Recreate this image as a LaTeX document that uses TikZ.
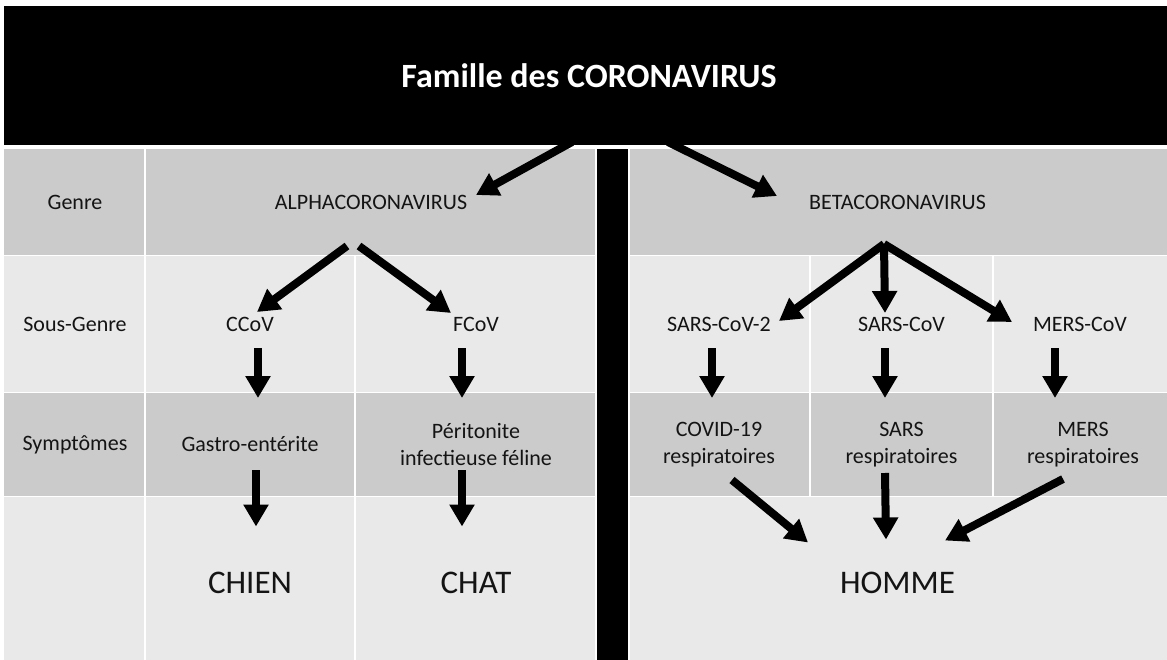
\documentclass[tikz,border=0pt]{standalone}
\usepackage{fontspec}
\setmainfont{Carlito}
\usetikzlibrary{arrows.meta}
\definecolor{grisfonce}{RGB}{203,203,203}
\definecolor{grisclair}{RGB}{233,233,233}
\definecolor{encre}{RGB}{20,20,20}
\tikzset{
  lbl/.style={font=\fontsize{22}{27}\selectfont, text=encre, align=center, inner sep=0pt},
  hote/.style={font=\fontsize{33}{40}\selectfont, text=encre, inner sep=0pt},
  fleche/.style={line width=8pt, -{Triangle[length=22pt,width=24pt]}},
  sep/.style={white, line width=1.5pt}
}
\begin{document}
\begin{tikzpicture}[x=1pt,y=-1pt]
  \useasboundingbox (0,0) rectangle (1167,660);
  % bandeau du titre
  \fill[black] (4,6) rectangle (1167,145);
  % lignes du tableau
  \fill[grisfonce] (4,149) rectangle (1167,255.5);
  \fill[grisclair] (4,255.5) rectangle (1167,392.5);
  \fill[grisfonce] (4,392.5) rectangle (1167,496.5);
  \fill[grisclair] (4,496.5) rectangle (1167,660);
  \draw[sep] (4,255.5) -- (1167,255.5) (4,392.5) -- (1167,392.5) (4,496.5) -- (1167,496.5);
  \draw[sep] (145,149) -- (145,660) (355,255.5) -- (355,660);
  \draw[sep] (810,255.5) -- (810,496.5) (993,255.5) -- (993,496.5);
  \draw[sep] (596,149) -- (596,660) (629,149) -- (629,660);
  \fill[black] (597,149) rectangle (628,660); % barre de séparation

  \node[font=\bfseries\fontsize{34}{41}\selectfont, text=white] (famille) at (589,76) {Famille des CORONAVIRUS};

  \node[lbl] (genre) at (75,202.5) {Genre};
  \node[lbl] (alpha) at (371,202.5) {ALPHACORONAVIRUS};
  \node[lbl] (beta) at (897.5,202.5) {BETACORONAVIRUS};

  \node[lbl] (sousgenre) at (75,324) {Sous-Genre};
  \node[lbl] (ccov) at (250,324) {CCoV};
  \node[lbl] (fcov) at (476,324) {FCoV};
  \node[lbl] (sarscovdeux) at (719,324) {SARS-CoV-2};
  \node[lbl] (sarscov) at (901.5,324) {SARS-CoV};
  \node[lbl] (merscov) at (1080,324) {MERS-CoV};

  \node[lbl] (symptomes) at (75,444.5) {Symptômes};
  \node[lbl] (gastro) at (250,444.5) {Gastro-entérite};
  \node[lbl] (peritonite) at (476,444.5) {Péritonite\\infectieuse féline};
  \node[lbl] (covid) at (719,444.5) {COVID-19\\respiratoires};
  \node[lbl] (sars) at (901.5,444.5) {SARS\\respiratoires};
  \node[lbl] (mers) at (1083,444.5) {MERS\\respiratoires};

  \node[hote] (chien) at (250,582.5) {CHIEN};
  \node[hote] (chat) at (476,582.5) {CHAT};
  \node[hote] (homme) at (897.5,582.5) {HOMME};

  % du titre vers les genres
  \draw[fleche] ([shift={(-17,66)}]famille.center) -- ([shift={(105,-7.5)}]alpha.center);
  \draw[fleche] ([shift={(79,66)}]famille.center) -- ([shift={(-120.5,-6.5)}]beta.center);
  % genres vers sous-genres
  \draw[fleche] ([shift={(-24,43.5)}]alpha.center) -- ([shift={(7,-12)}]ccov.center);
  \draw[fleche] ([shift={(-12,43.5)}]alpha.center) -- ([shift={(-25,-11)}]fcov.center);
  \draw[fleche] ([shift={(-13.5,41.5)}]beta.center) -- ([shift={(60,-3)}]sarscovdeux.center);
  \draw[fleche] ([shift={(-13.5,41.5)}]beta.center) -- ([shift={(-16.5,-11)}]sarscov.center);
  \draw[fleche] ([shift={(-13.5,41.5)}]beta.center) -- ([shift={(-68,-2)}]merscov.center);
  % sous-genres vers symptômes
  \draw[fleche] ([shift={(8,24)}]ccov.center) -- ([shift={(8,-46.5)}]gastro.center);
  \draw[fleche] ([shift={(-14,24)}]fcov.center) -- ([shift={(-14,-46.5)}]peritonite.center);
  \draw[fleche] ([shift={(-7,24)}]sarscovdeux.center) -- ([shift={(-7,-46.5)}]covid.center);
  \draw[fleche] ([shift={(-16.5,24)}]sarscov.center) -- ([shift={(-16.5,-46.5)}]sars.center);
  \draw[fleche] ([shift={(-25,24)}]merscov.center) -- ([shift={(-28,-46.5)}]mers.center);
  % symptômes vers hôtes
  \draw[fleche] ([shift={(6,25.5)}]gastro.center) -- ([shift={(6,-56)}]chien.center);
  \draw[fleche] ([shift={(-14,25.5)}]peritonite.center) -- ([shift={(-14,-56)}]chat.center);
  \draw[fleche] ([shift={(13,35.5)}]covid.center) -- ([shift={(-89.5,-40)}]homme.center);
  \draw[fleche] ([shift={(-16.5,28.5)}]sars.center) -- ([shift={(-11.5,-43)}]homme.center);
  \draw[fleche] ([shift={(-20,34.5)}]mers.center) -- ([shift={(47.5,-42)}]homme.center);
\end{tikzpicture}
\end{document}
